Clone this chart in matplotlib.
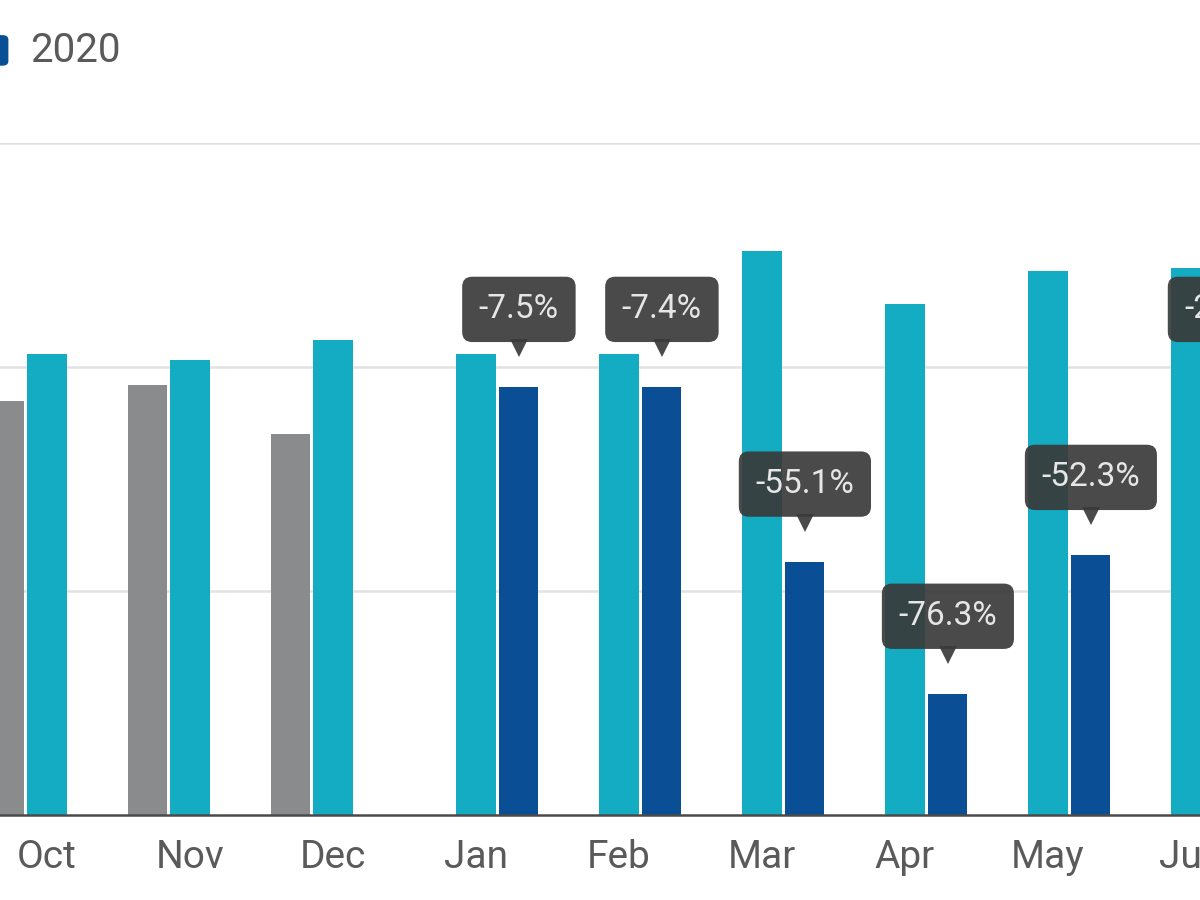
import matplotlib.pyplot as plt
import matplotlib.transforms as mtransforms
from matplotlib.patches import FancyBboxPatch
import numpy as np

plt.rcParams["font.family"] = ["Roboto", "DejaVu Sans"]

# ------------------------------------------------------------------ #
# data (y in gridline units - axis labels are cropped out of the view)
# ------------------------------------------------------------------ #
months = ["Oct", "Nov", "Dec", "Jan", "Feb", "Mar", "Apr", "May", "Jun"]
vals_2018 = [1.85, 1.92, 1.70, np.nan, np.nan, np.nan, np.nan, np.nan, np.nan]
vals_2019 = [2.06, 2.03, 2.12, 2.06, 2.06, 2.52, 2.28, 2.43, 2.44]
vals_2020 = [np.nan, np.nan, np.nan, 1.91, 1.91, 1.13, 0.54, 1.16, 1.91]
change_labels = [None, None, None, "-7.5%", "-7.4%", "-55.1%", "-76.3%", "-52.3%", "-21.7%"]

CLR_GREY, CLR_TEAL, CLR_BLUE = "#898b8d", "#14acc2", "#0a4f96"
CLR_TEXT = "#5a5a5a"
CLR_TIP = "#3a3a3a"

x = np.arange(len(months))
bar_w = 0.273
offset = 0.30

fig = plt.figure(figsize=(12, 9), dpi=100)
ax = fig.add_axes([0.0, 85 / 900, 1.0, (815 - 143) / 900])

ax.bar(x - offset, vals_2018, width=bar_w, color=CLR_GREY, label="2018", zorder=2)
ax.bar(x, vals_2019, width=bar_w, color=CLR_TEAL, label="2019", zorder=2)
ax.bar(x + offset, vals_2020, width=bar_w, color=CLR_BLUE, label="2020", zorder=2)

ax.set_xlim(-47 / 143, (1200 - 47) / 143)
ax.set_ylim(0, 3)
ax.set_yticks([1, 2, 3])
ax.yaxis.grid(True, color="#e2e2e2", linewidth=1.8, zorder=0)
ax.tick_params(axis="y", left=False, labelleft=False)
ax.set_xticks(x)
ax.set_xticklabels(months, fontsize=28, color=CLR_TEXT)
ax.tick_params(axis="x", length=0, pad=17)
for side in ["top", "left", "right"]:
    ax.spines[side].set_visible(False)
ax.spines["bottom"].set_color("#4a4a4a")
ax.spines["bottom"].set_linewidth(1.8)
ax.spines["bottom"].set_zorder(3)

# ------------------------------------------------------------------ #
# tooltip-style change labels above the 2020 bars
# ------------------------------------------------------------------ #
for i, lbl in enumerate(change_labels):
    if lbl is None:
        continue
    xi, yi = x[i] + offset, vals_2020[i]
    ax.annotate(lbl, xy=(xi, yi), xytext=(0, 56), textcoords="offset points",
                ha="center", va="center", fontsize=24, color="#e6e6e6",
                annotation_clip=False, zorder=5,
                bbox=dict(boxstyle="round,pad=0.5,rounding_size=0.3",
                          fc=CLR_TIP, ec="none", alpha=0.92))
    tr = ax.transData + mtransforms.ScaledTranslation(0, 28 / 72, fig.dpi_scale_trans)
    ax.plot(xi, yi, marker="v", markersize=13, color=CLR_TIP, alpha=0.92,
            markeredgewidth=0, transform=tr, clip_on=False, zorder=5)

# legend (cropped at the left edge)
fig.patches.append(FancyBboxPatch((-0.014, 0.927), 0.021, 0.034,
                                  boxstyle="round,pad=0,rounding_size=0.005",
                                  transform=fig.transFigure, fc=CLR_BLUE, ec="none"))
fig.text(30 / 1200, 0.944, "2020", fontsize=29, color=CLR_TEXT, va="center", ha="left")

fig.savefig("out.png", dpi=100)
